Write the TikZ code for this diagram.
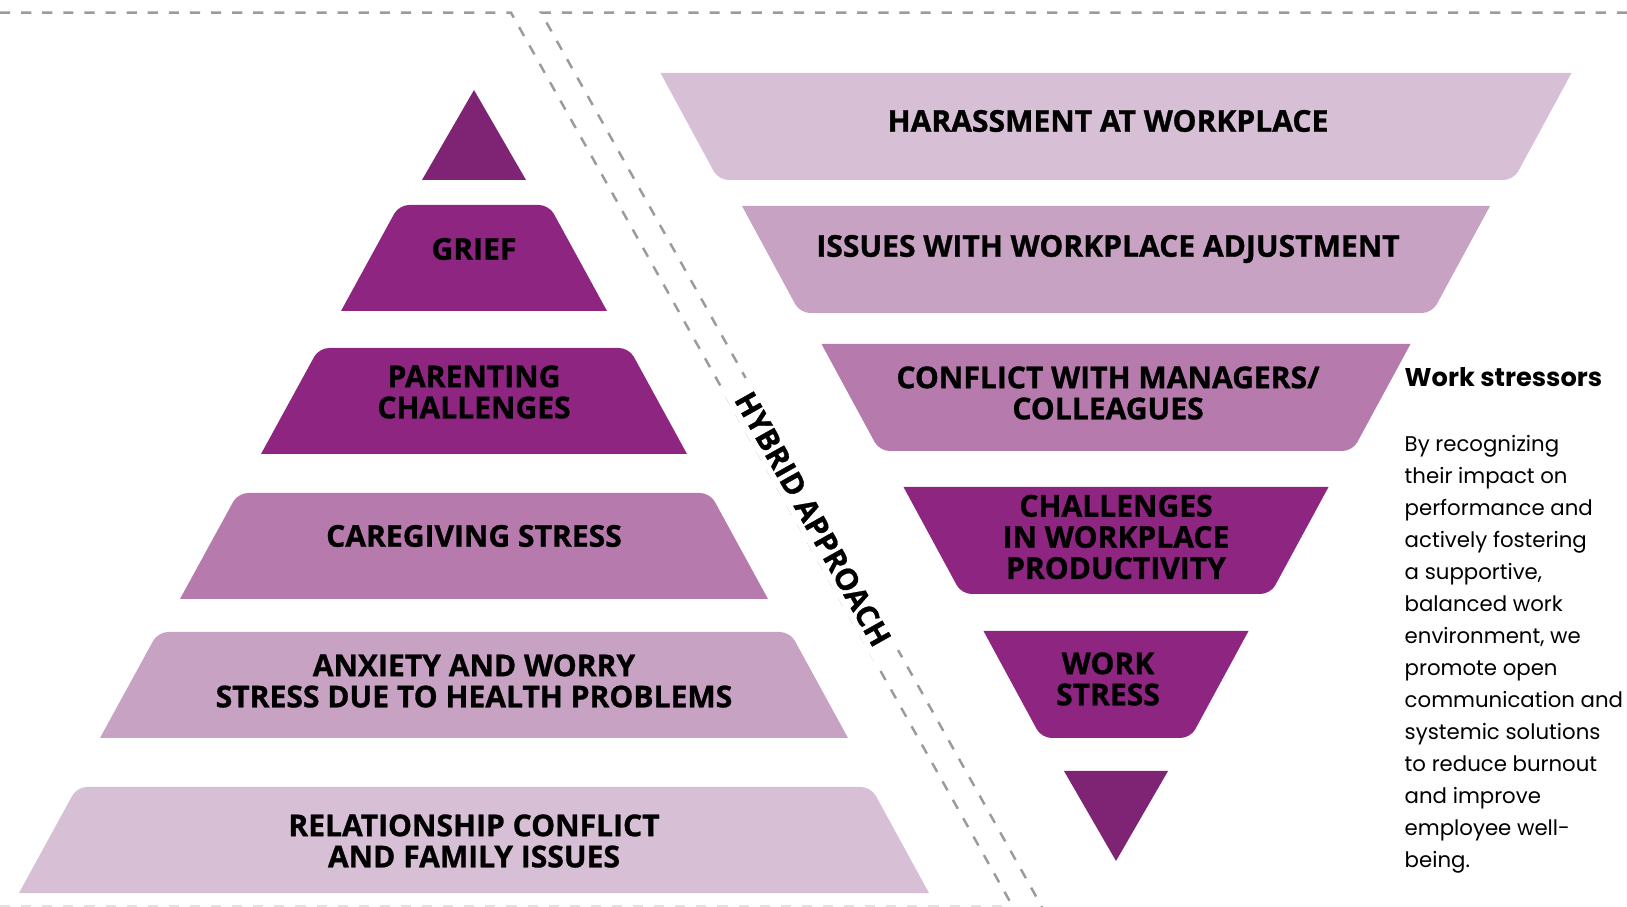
\documentclass[tikz,border=0pt]{standalone}
\usepackage{fontspec}
\setmainfont{Open Sans}[BoldFeatures={FakeBold=1}]
\newfontfamily\blurbfont{Poppins}
\definecolor{plumdark}{HTML}{7F2474}
\definecolor{plum}{HTML}{8E2581}
\definecolor{plummid}{HTML}{B67BAC}
\definecolor{plumsoft}{HTML}{C8A2C2}
\definecolor{plumpale}{HTML}{D7C0D6}
\definecolor{guide}{HTML}{9B9B9B}
\begin{document}
\begin{tikzpicture}[x=0.01cm, y=-0.01cm,
  layerlabel/.style={font=\fontsize{8.55}{8.85}\selectfont\bfseries, align=center, inner sep=0pt},
  guideline/.style={guide, line width=0.7pt, dash pattern=on 2.9pt off 3.1pt}]
  \useasboundingbox (0,0) rectangle (1627,907);
  % guide lines
  \draw[guideline] (0,12.7) -- (511,12.7) -- (1013,907);
  \draw[guideline] (1627,12.7) -- (541,12.7) -- (1042,907);
  \draw[guideline, guide!30] (0,906) -- (1011,906);
  % left pyramid
  \fill[plumdark] (422,180) -- (474,90) -- (526,180) -- cycle;
  \foreach \yt/\w/\col/\name/\ty/\txt in {
      205/133/plum/grief/249/{GRIEF},
      348/213/plum/parenting/392/{PARENTING\\CHALLENGES},
      493/294/plummid/caregiving/536/{CAREGIVING STRESS},
      632/374/plumsoft/anxiety/681/{ANXIETY AND WORRY\\STRESS DUE TO HEALTH PROBLEMS},
      787/455/plumpale/relationship/841/{RELATIONSHIP CONFLICT\\AND FAMILY ISSUES}} {
    \fill[\col] ({474-\w},{\yt+106}) [rounded corners=2.8pt] -- ({474-\w+58},\yt)
      -- ({474+\w-58},\yt) [sharp corners] -- ({474+\w},{\yt+106}) -- cycle;
    \node[layerlabel] (\name) at (474,\ty) {\txt};
  }
  % right funnel
  \foreach \yt/\w/\col/\name/\tx/\ty/\txt in {
      73/455.5/plumpale/harassment/1108/121/{HARASSMENT AT WORKPLACE},
      206/374/plumsoft/adjustment/1108/249/{ISSUES WITH WORKPLACE ADJUSTMENT},
      344/294.5/plummid/conflict/1108/393/{CONFLICT WITH MANAGERS/\\COLLEAGUES},
      487/212.5/plum/productivity/1116/537/{CHALLENGES\\IN WORKPLACE\\PRODUCTIVITY},
      631/132.5/plum/workstress/1108/679/{WORK\\STRESS}} {
    \fill[\col] ({1116-\w},\yt) -- ({1116+\w},\yt) [rounded corners=2.8pt]
      -- ({1116+\w-58},{\yt+107}) -- ({1116-\w+58},{\yt+107}) [sharp corners] -- cycle;
    \node[layerlabel] (\name) at (\tx,\ty) {\txt};
  }
  \fill[plumdark] (1064,771) -- (1168,771) -- (1116,861) -- cycle;
  % band label
  \node[layerlabel, fill=white, inner xsep=3.7pt, inner ysep=1.6pt, rotate=-60.7] (hybrid) at (813,519) {HYBRID APPROACH};
  % side text
  \node[anchor=base west, inner sep=0pt, font=\blurbfont\bfseries\fontsize{7.3}{8}\selectfont] (heading) at (1404,386.7) {Work stressors};
  \node[anchor=north west, inner sep=0pt, align=left, font=\blurbfont\fontsize{6.05}{9.1}\selectfont] (blurb) at (1404,435)
    {By recognizing\\their impact on\\performance and\\actively fostering\\a supportive,\\balanced work\\environment, we\\promote open\\communication and\\systemic solutions\\to reduce burnout\\and improve\\employee well-\\being.};
\end{tikzpicture}
\end{document}
